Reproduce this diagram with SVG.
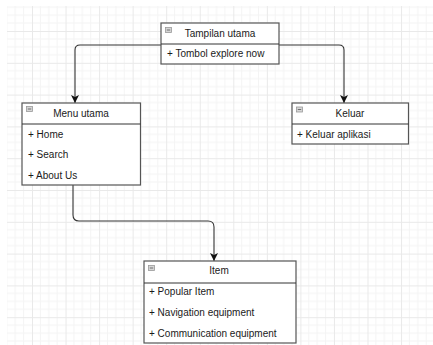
<svg xmlns="http://www.w3.org/2000/svg" width="433" height="345" viewBox="0 0 433 345">
  <defs>
    <!-- canvas grid: minor lines every quarter, major line on the cell edge -->
    <pattern id="grid" patternUnits="userSpaceOnUse" x="32" y="31" width="33.55" height="31.8">
      <path d="M8.39 0V31.8M16.78 0V31.8M25.16 0V31.8M0 7.95H33.55M0 15.9H33.55M0 23.85H33.55" stroke="#f4f4f4" stroke-width="1" fill="none"/>
      <path d="M0.5 0V31.8M0 0.5H33.55" stroke="#e9e9e9" stroke-width="1" fill="none"/>
    </pattern>
    <marker id="arrow" viewBox="0 0 10 10" refX="10" refY="5" markerWidth="8" markerHeight="8" markerUnits="userSpaceOnUse" orient="auto">
      <path d="M0 0L10 5L0 10L2.5 5Z" fill="#111"/>
    </marker>
    <!-- collapse toggle drawn in each header -->
    <g id="toggle">
      <rect x="0.5" y="0.5" width="6" height="5" fill="#d6d6d6" stroke="#9a9a9a" stroke-width="0.8"/>
      <path d="M1.8 3H5.2" stroke="#555" stroke-width="0.8"/>
    </g>
  </defs>
  <style>
    .box { fill: #fff; stroke: #555; stroke-width: 1.2; }
    .sep { stroke: #333; stroke-width: 1; }
    .title { font-family: "Liberation Sans", Arial, sans-serif; font-size: 10px; fill: #1a1a1a; text-anchor: middle; }
    .row { font-family: "Liberation Sans", Arial, sans-serif; font-size: 10px; fill: #1a1a1a; }
    .edge { fill: none; stroke: #333; stroke-width: 1.1; marker-end: url(#arrow); }
  </style>

  <rect width="433" height="345" fill="#fff"/>
  <rect x="7" y="6" width="426" height="339" fill="url(#grid)"/>

  <g id="connectors">
    <path class="edge" d="M161 45H80Q75 45 75 50V103"/>
    <path class="edge" d="M279 45H339Q344 45 344 50V103"/>
    <path class="edge" d="M73 185V215Q73 221 79 221H208Q214 221 214 227V261"/>
  </g>

  <g id="tampilan-utama">
    <rect class="box" x="161" y="23" width="118" height="41"/>
    <line class="sep" x1="161" y1="44" x2="279" y2="44"/>
    <use href="#toggle" x="165" y="27"/>
    <text class="title" x="220" y="36.5">Tampilan utama</text>
    <text class="row" x="167" y="56.5">+ Tombol explore now</text>
  </g>

  <g id="menu-utama">
    <rect class="box" x="22" y="103" width="118.5" height="82"/>
    <line class="sep" x1="22" y1="124" x2="140.5" y2="124"/>
    <use href="#toggle" x="26" y="106"/>
    <text class="title" x="81" y="116.5">Menu utama</text>
    <text class="row" x="28" y="137.5">+ Home</text>
    <text class="row" x="28" y="158">+ Search</text>
    <text class="row" x="28" y="178.5">+ About Us</text>
  </g>

  <g id="keluar">
    <rect class="box" x="292" y="103" width="116.5" height="41"/>
    <line class="sep" x1="292" y1="124" x2="408.5" y2="124"/>
    <use href="#toggle" x="296" y="106.5"/>
    <text class="title" x="350" y="116.5">Keluar</text>
    <text class="row" x="297" y="137.5">+ Keluar aplikasi</text>
  </g>

  <g id="item">
    <rect class="box" x="144" y="261" width="152" height="82"/>
    <line class="sep" x1="144" y1="283" x2="296" y2="283"/>
    <use href="#toggle" x="148" y="265"/>
    <text class="title" x="219" y="274">Item</text>
    <text class="row" x="149" y="294.5">+ Popular Item</text>
    <text class="row" x="149" y="315.8">+ Navigation equipment</text>
    <text class="row" x="149" y="336.8">+ Communication equipment</text>
  </g>
</svg>
